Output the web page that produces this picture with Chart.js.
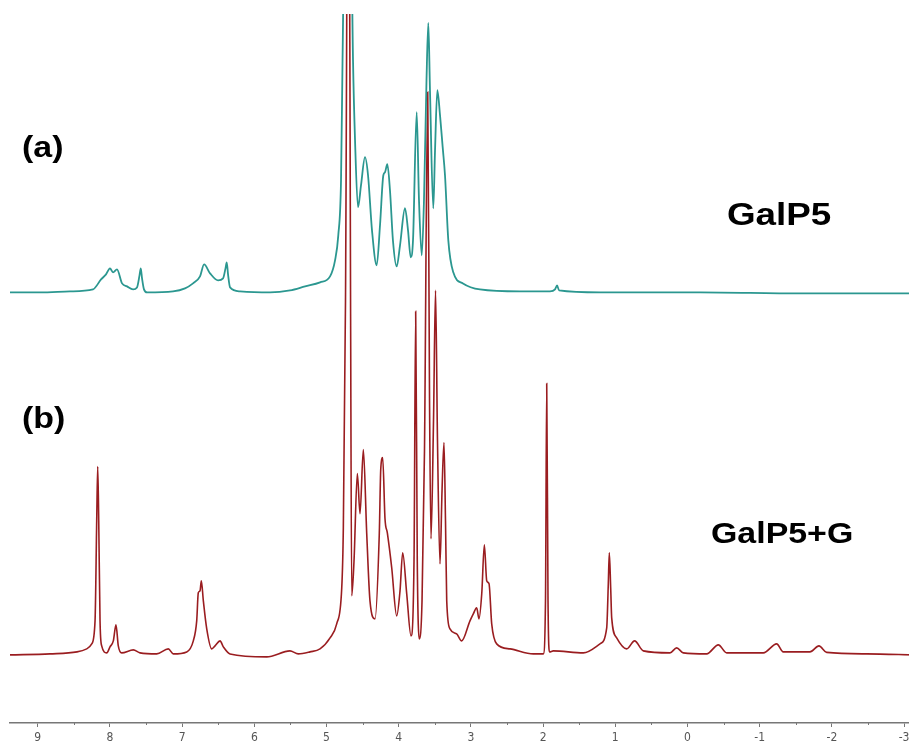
<!DOCTYPE html>
<html>
<head>
<meta charset="utf-8">
<script src="https://cdn.jsdelivr.net/npm/chart.js@4.4.1/dist/chart.umd.min.js"></script>
<style>
  body { margin: 0; background: #fff; overflow: hidden; }
  #frame { width: 909px; height: 742px; overflow: hidden; position: relative; }
  #wrap { width: 915px; height: 749px; position: absolute; left: 0; top: 0; }
</style>
</head>
<body>
<div id="frame"><div id="wrap"><canvas id="nmr"></canvas></div></div>
<script>
// chemical shift axis (ppm)
const tickValues = [9, 8, 7, 6, 5, 4, 3, 2, 1, 0, -1, -2, -3];
const minorTicks = [8.5, 7.5, 6.5, 5.5, 4.5, 3.5, 2.5, 1.5, 0.5, -0.5, -1.5, -2.5];

// (a) GalP5 - ppm / intensity
const ppmA = [9.384, 8.968, 8.553, 8.234, 8.123, 8.054, 7.999, 7.957, 7.902, 7.832,
  7.763, 7.680, 7.625, 7.590, 7.573, 7.555, 7.528, 7.486, 7.126, 6.960,
  6.849, 6.752, 6.696, 6.613, 6.502, 6.433, 6.399, 6.382, 6.364, 6.336,
  6.198, 5.782, 5.505, 5.297, 5.089, 4.951, 4.882, 4.837, 4.799, 4.778,
  4.702, 4.633, 4.605, 4.564, 4.522, 4.467, 4.425, 4.370, 4.305, 4.259,
  4.213, 4.190, 4.158, 4.121, 4.080, 4.028, 3.982, 3.913, 3.871, 3.834,
  3.802, 3.751, 3.719, 3.681, 3.650, 3.615, 3.590, 3.567, 3.521, 3.497,
  3.465, 3.428, 3.391, 3.359, 3.313, 3.244, 3.110, 2.875, 2.321, 1.905,
  1.835, 1.807, 1.779, 1.211, -0.174, -1.559, -3.151];
const intA = [0, 0, 1, 3, 13, 18, 24, 20, 23, 9,
  6, 3, 5, 17, 24, 14, 3, 0, 1, 4,
  9, 16, 28, 19, 12, 14, 24, 30, 18, 5,
  1, 0, 2, 6, 10, 16, 32, 57, 112, 232,
  600, 232, 152, 85, 107, 135, 117, 62, 27, 67,
  117, 120, 128, 102, 52, 26, 47, 84, 62, 35,
  52, 180, 92, 37, 92, 212, 269, 202, 84, 142,
  202, 177, 145, 117, 52, 20, 9, 3, 1, 1,
  3, 7, 2, 0, 0, -1, -1];

// (b) GalP5+G
const ppmB = [9.384, 8.830, 8.456, 8.321, 8.252, 8.206, 8.183, 8.169, 8.155, 8.137,
  8.114, 8.044, 7.999, 7.953, 7.916, 7.884, 7.837, 7.676, 7.583, 7.352,
  7.191, 7.122, 6.936, 6.845, 6.798, 6.776, 6.752, 6.734, 6.706, 6.659,
  6.590, 6.544, 6.475, 6.429, 6.337, 5.828, 5.506, 5.391, 5.229, 5.090,
  4.951, 4.859, 4.789, 4.767, 4.737, 4.695, 4.667, 4.651, 4.619, 4.573,
  4.536, 4.490, 4.443, 4.398, 4.328, 4.269, 4.249, 4.222, 4.190, 4.158,
  4.097, 4.028, 3.982, 3.945, 3.889, 3.830, 3.788, 3.765, 3.743, 3.715,
  3.677, 3.643, 3.598, 3.573, 3.553, 3.518, 3.490, 3.463, 3.428, 3.400,
  3.373, 3.352, 3.335, 3.290, 3.197, 3.128, 3.013, 2.967, 2.920, 2.888,
  2.850, 2.814, 2.781, 2.749, 2.712, 2.643, 2.458, 2.136, 1.997, 1.967,
  1.950, 1.932, 1.911, 1.859, 1.443, 1.212, 1.119, 1.097, 1.083, 1.064,
  1.050, 0.981, 0.842, 0.733, 0.612, 0.243, 0.150, 0.058, -0.266, -0.427,
  -0.543, -1.050, -1.235, -1.326, -1.696, -1.821, -1.928, -2.482, -3.151];
const intB = [1, 2, 4, 7, 12, 35, 135, 189, 135, 35,
  10, 3, 9, 15, 31, 10, 3, 6, 3, 2,
  7, 2, 4, 15, 35, 63, 65, 75, 55, 27,
  7, 10, 15, 9, 2, -1, 5, 2, 4, 7,
  18, 32, 68, 128, 355, 960, 355, 60, 95, 182,
  142, 206, 122, 55, 37, 122, 186, 198, 137, 123,
  88, 40, 65, 103, 62, 20, 95, 344, 95, 17,
  55, 205, 563, 255, 117, 235, 365, 215, 92, 165,
  213, 135, 55, 27, 22, 15, 35, 42, 48, 37,
  62, 111, 75, 72, 32, 12, 7, 2, 2, 55,
  272, 55, 4, 5, 3, 12, 28, 72, 103, 68,
  38, 18, 7, 15, 5, 3, 8, 3, 2, 11,
  3, 3, 12, 4, 4, 10, 3.5, 2, 1];

const labels = ['(a)', '(b)', 'GalP5', 'GalP5+G'];

function toPoints(xs, ys) {
  return xs.map((x, i) => ({ x: x, y: ys[i] }));
}

// small ticks between the numbered ones + the text labels
const extras = {
  id: 'extras',
  afterDraw(chart) {
    const ctx = chart.ctx;
    const xs = chart.scales.x;
    const y0 = chart.chartArea.bottom;
    ctx.save();
    ctx.strokeStyle = '#777';
    ctx.lineWidth = 1;
    minorTicks.forEach(v => {
      const px = Math.round(xs.getPixelForValue(v)) + 0.5;
      ctx.beginPath();
      ctx.moveTo(px, y0);
      ctx.lineTo(px, y0 + 2);
      ctx.stroke();
    });
    ctx.fillStyle = '#000';
    ctx.textBaseline = 'alphabetic';
    // x, baseline, font size, horizontal stretch
    const spots = [[22, 157, 30, 1.13], [22, 428, 30, 1.13], [727, 225, 32, 1.15], [711, 543, 30, 1.13]];
    labels.forEach((t, i) => {
      const s = spots[i];
      ctx.save();
      ctx.font = 'bold ' + s[2] + 'px "Liberation Sans", Arial, sans-serif';
      ctx.translate(s[0], s[1]);
      ctx.scale(s[3], 1);
      ctx.fillText(t, 0, 0);
      ctx.restore();
    });
    ctx.restore();
  }
};

const ctx = document.getElementById('nmr').getContext('2d');
const nmrChart = new Chart(ctx, {
  type: 'line',
  data: {
    datasets: [{
      data: toPoints(ppmA, intA),
      yAxisID: 'ya',
      borderColor: '#2b9790',
      borderWidth: 1.8,
      pointRadius: 0,
      cubicInterpolationMode: 'monotone'
    }, {
      data: toPoints(ppmB, intB),
      yAxisID: 'yb',
      borderColor: '#9a1d20',
      borderWidth: 1.6,
      pointRadius: 0,
      cubicInterpolationMode: 'monotone'
    }]
  },
  options: {
    responsive: true,
    maintainAspectRatio: false,
    animation: false,
    layout: { padding: { top: 14, left: 10, right: 0, bottom: 0 } },
    plugins: {
      legend: { display: false },
      tooltip: { enabled: false }
    },
    scales: {
      x: {
        type: 'linear',
        reverse: true,
        min: -3.151,
        max: 9.384,
        afterBuildTicks: axis => {
          axis.ticks = tickValues.map(v => ({ value: v }));
        },
        ticks: {
          autoSkip: false,
          maxRotation: 0,
          padding: 5,
          color: '#555',
          font: { family: '"Liberation Sans Narrow", "DejaVu Sans Condensed", sans-serif', size: 12, lineHeight: 1 },
          callback: v => String(v)
        },
        grid: {
          drawOnChartArea: false,
          drawTicks: true,
          tickLength: 4,
          tickColor: '#777'
        },
        border: { display: true, color: '#777', width: 1.5 }
      },
      ya: { display: false, min: -430, max: 278 },
      yb: { display: false, min: -67, max: 641 }
    }
  },
  plugins: [extras]
});
</script>
</body>
</html>
